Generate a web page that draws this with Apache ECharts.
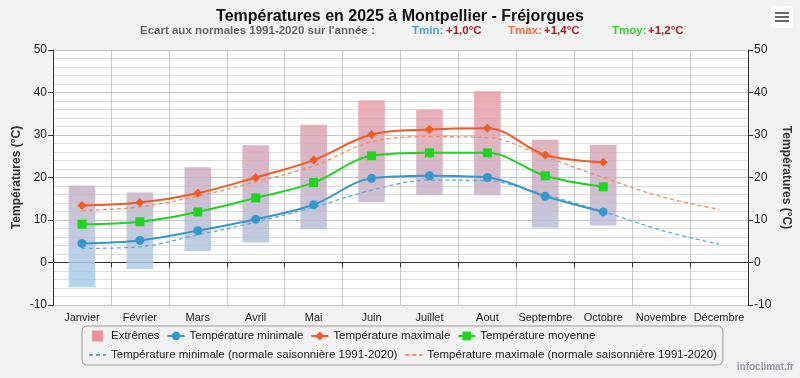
<!DOCTYPE html>
<html><head><meta charset="utf-8">
<script src="https://cdn.jsdelivr.net/npm/echarts@6/dist/echarts.min.js"></script>
<style>html,body{margin:0;padding:0;background:#f2f2f2}#c{width:800px;height:378px}</style>
</head><body><div id="c"></div>
<script>
const months = ['Janvier','Février','Mars','Avril','Mai','Juin','Juillet','Aout','Septembre','Octobre','Novembre','Décembre'];
const yTicks = [-10, 0, 10, 20, 30, 40, 50];
const tmin = [4.5, 5.2, 7.5, 10.2, 13.6, 19.8, 20.4, 20.0, 15.6, 11.9, null, null];
const tmax = [13.4, 14.1, 16.3, 20.0, 24.1, 30.1, 31.3, 31.6, 25.3, 23.6, null, null];
const tmoy = [9.0, 9.6, 11.9, 15.2, 18.8, 25.1, 25.8, 25.8, 20.4, 17.8, null, null];
const extMin = [-5.8, -1.5, 2.7, 4.7, 7.8, 14.2, 15.9, 15.8, 8.2, 8.7, null, null];
const extMax = [18.1, 16.5, 22.4, 27.6, 32.4, 38.2, 36.0, 40.3, 28.9, 27.7, null, null];
const normMin = [3.3, 3.7, 6.5, 9.5, 13.0, 17.0, 19.4, 19.2, 15.9, 12.0, 7.6, 4.3];
const normMax = [12.2, 13.1, 15.6, 19.0, 22.7, 28.4, 29.6, 29.4, 24.9, 20.0, 15.5, 12.5];
const ecarts = {tmin: '+1,0°C', tmax: '+1,4°C', tmoy: '+1,2°C'};

const FONT = 'Liberation Sans';
const chart = echarts.init(document.getElementById('c'), null, {renderer: 'canvas'});

const extData = months.map((m, i) => extMin[i] == null ? [i, null, null] : [i, extMin[i], extMax[i]]);
const barGrad = new echarts.graphic.LinearGradient(0, 50, 0, 305, [
  {offset: 0, color: 'rgba(236,150,160,0.85)'},
  {offset: 0.2, color: 'rgba(232,158,168,0.85)'},
  {offset: 0.5, color: 'rgba(204,174,194,0.85)'},
  {offset: 0.8, color: 'rgba(176,200,226,0.85)'},
  {offset: 1, color: 'rgba(160,210,240,0.85)'}
], true);

const yAxisCommon = {
  type: 'value', min: yTicks[0], max: yTicks[yTicks.length - 1], interval: 10,
  name: 'Températures (°C)', nameLocation: 'middle', nameGap: 30, nameMoveOverlap: false,
  nameTextStyle: {fontFamily: FONT, fontSize: 12, fontWeight: 'bold', color: '#333'},
  axisLine: {show: true, lineStyle: {color: '#333', width: 1}},
  axisTick: {show: true, length: 5, lineStyle: {color: '#333'}},
  axisLabel: {fontFamily: FONT, fontSize: 12, color: '#222', margin: 6},
  splitLine: {show: false}
};

chart.setOption({
  backgroundColor: '#f2f2f2',
  animation: false,
  title: {
    text: 'Températures en 2025 à Montpellier - Fréjorgues',
    left: 'center', top: 4,
    textStyle: {fontFamily: FONT, fontSize: 16, fontWeight: 'bold', color: '#111'}
  },
  grid: {left: 53, right: 52, top: 50, bottom: 73, show: true, backgroundColor: '#ffffff', borderWidth: 0,
    containLabel: false, outerBoundsMode: 'none'},
  legend: {
    left: 82, top: 326, width: 640,
    padding: [4, 6, 4, 6], itemGap: 7,
    backgroundColor: '#f2f2f2', borderColor: '#999', borderWidth: 1, borderRadius: 5,
    itemWidth: 17, itemHeight: 11,
    textStyle: {fontFamily: FONT, fontSize: 11.5, color: '#222'},
    data: [
      {name: 'Extrêmes', icon: 'path://M0,0L10,0L10,10L0,10Z', itemStyle: {color: '#e8949c'}},
      'Température minimale', 'Température maximale', 'Température moyenne',
      {name: 'Température minimale (normale saisonnière 1991-2020)', itemStyle: {opacity: 0}},
      {name: 'Température maximale (normale saisonnière 1991-2020)', itemStyle: {opacity: 0}}
    ]
  },
  xAxis: {
    type: 'category', data: months, boundaryGap: true,
    axisLine: {show: true, lineStyle: {color: '#333'}},
    axisTick: {show: true, length: 5, lineStyle: {color: '#333'}},
    axisLabel: {fontFamily: FONT, fontSize: 11, color: '#222', margin: 7, interval: 0},
    splitLine: {show: true, interval: 0, lineStyle: {color: '#c8c8c8', width: 1}}
  },
  yAxis: [
    Object.assign({}, yAxisCommon, {
      position: 'left', nameRotate: 90,
      splitLine: {show: true, lineStyle: {color: '#c4c4c4', width: 1}},
      minorTick: {show: true, splitNumber: 5, length: 2, lineStyle: {color: 'rgba(0,0,0,0)'}},
      minorSplitLine: {show: true, lineStyle: {color: '#dedede', width: 1}}
    }),
    Object.assign({}, yAxisCommon, {position: 'right', nameRotate: -90, nameGap: 32})
  ],
  series: [
    {
      name: 'Extrêmes', type: 'custom', z: 1,
      itemStyle: {color: '#e8949c'},
      encode: {x: 0, y: [1, 2]},
      data: extData,
      renderItem: function (params, api) {
        const lo = api.value(1), hi = api.value(2);
        if (lo == null || isNaN(lo)) return null;
        const p1 = api.coord([api.value(0), hi]);
        const p2 = api.coord([api.value(0), lo]);
        const w = api.size([1, 0])[0] * 0.46;
        return {type: 'rect', shape: {x: p1[0] - w / 2, y: p1[1], width: w, height: p2[1] - p1[1]},
          style: {fill: barGrad}};
      }
    },
    {
      name: 'Température minimale (normale saisonnière 1991-2020)', type: 'line', data: normMin,
      smooth: 0.35, symbol: 'none', z: 2,
      itemStyle: {color: '#5aaad8'}, lineStyle: {color: '#5aaad8', width: 1.3, type: [4, 3]}
    },
    {
      name: 'Température maximale (normale saisonnière 1991-2020)', type: 'line', data: normMax,
      smooth: 0.35, symbol: 'none', z: 2,
      itemStyle: {color: '#f28a62'}, lineStyle: {color: '#f28a62', width: 1.3, type: [4, 3]}
    },
    {
      name: 'Température minimale', type: 'line', data: tmin, smooth: 0.35, z: 3,
      symbol: 'circle', symbolSize: 9, showSymbol: true,
      itemStyle: {color: '#3598cc'}, lineStyle: {color: '#3598cc', width: 2}
    },
    {
      name: 'Température maximale', type: 'line', data: tmax, smooth: 0.35, z: 3,
      symbol: 'diamond', symbolSize: 9,
      itemStyle: {color: '#f25a24'}, lineStyle: {color: '#f25a24', width: 2}
    },
    {
      name: 'Température moyenne', type: 'line', data: tmoy, smooth: 0.35, z: 3,
      symbol: 'rect', symbolSize: 9,
      itemStyle: {color: '#1ed41e'}, lineStyle: {color: '#1ed41e', width: 2}
    },
    {type: 'line', yAxisIndex: 1, data: [], silent: true}
  ],
  graphic: [
    {type: 'text', left: 140, top: 25, style: {text: "Ecart aux normales 1991-2020 sur l'année :", fontFamily: FONT, fontSize: 11.5, fontWeight: 'bold', fill: '#666'}},
    {type: 'text', left: 412, top: 25, style: {text: 'Tmin:', fontFamily: FONT, fontSize: 11.5, fontWeight: 'bold', fill: '#4a9fd4'}},
    {type: 'text', left: 446, top: 25, style: {text: ecarts.tmin, fontFamily: FONT, fontSize: 11.5, fontWeight: 'bold', fill: '#a0202a'}},
    {type: 'text', left: 508, top: 25, style: {text: 'Tmax:', fontFamily: FONT, fontSize: 11.5, fontWeight: 'bold', fill: '#f07040'}},
    {type: 'text', left: 544, top: 25, style: {text: ecarts.tmax, fontFamily: FONT, fontSize: 11.5, fontWeight: 'bold', fill: '#a0202a'}},
    {type: 'text', left: 612, top: 25, style: {text: 'Tmoy:', fontFamily: FONT, fontSize: 11.5, fontWeight: 'bold', fill: '#33cc33'}},
    {type: 'text', left: 648, top: 25, style: {text: ecarts.tmoy, fontFamily: FONT, fontSize: 11.5, fontWeight: 'bold', fill: '#a0202a'}},
    {type: 'group', left: 771, top: 6, children: [
      {type: 'rect', shape: {x: 0, y: 0, width: 22, height: 22, r: 3}, style: {fill: '#ffffff'}},
      {type: 'rect', shape: {x: 4, y: 6, width: 14, height: 2}, style: {fill: '#666'}},
      {type: 'rect', shape: {x: 4, y: 10, width: 14, height: 2}, style: {fill: '#666'}},
      {type: 'rect', shape: {x: 4, y: 14, width: 14, height: 2}, style: {fill: '#666'}}
    ]},
    {type: 'text', right: 6, top: 362, style: {text: 'infoclimat.fr', fontFamily: FONT, fontSize: 10, fontWeight: 'bold', fill: '#9a9aaa'}}
  ]
});
</script>
</body></html>
